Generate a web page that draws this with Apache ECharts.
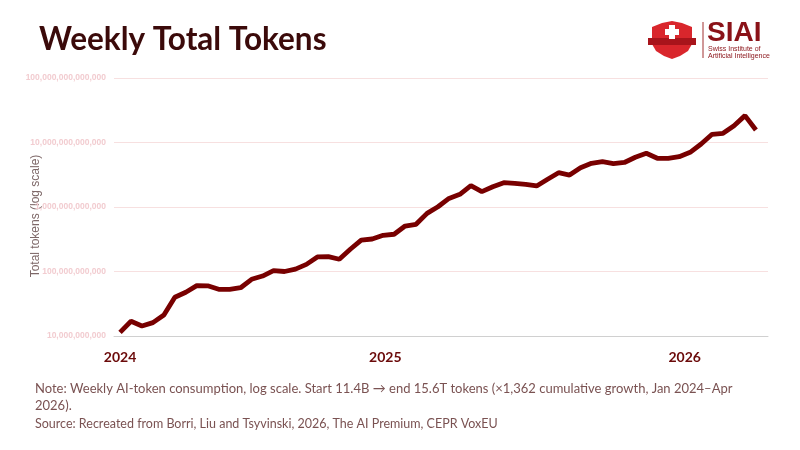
<!DOCTYPE html>
<html>
<head>
<meta charset="utf-8">
<script src="https://cdn.jsdelivr.net/npm/echarts@6/dist/echarts.min.js"></script>
<style>
  html, body { margin: 0; padding: 0; background: #fff; }
  #chart { width: 800px; height: 450px; }
</style>
</head>
<body>
<div id="chart"></div>
<script>
// weekly total tokens
var tokens = [
    1.14e10, 1.69e10, 1.43e10, 1.61e10, 2.12e10, 3.98e10, 4.76e10, 6.03e10, 6.0e10, 5.3e10,
    5.3e10, 5.6e10, 7.57e10, 8.5e10, 1.03e11, 1.0e11, 1.09e11, 1.29e11, 1.68e11, 1.70e11,
    1.55e11, 2.21e11, 3.07e11, 3.19e11, 3.64e11, 3.78e11, 5.07e11, 5.39e11, 7.98e11, 1.01e12,
    1.36e12, 1.57e12, 2.14e12, 1.73e12, 2.06e12, 2.38e12, 2.33e12, 2.25e12, 2.12e12, 2.69e12,
    3.40e12, 3.13e12, 4.06e12, 4.76e12, 5.04e12, 4.72e12, 4.9e12, 5.90e12, 6.81e12, 5.69e12,
    5.69e12, 6.03e12, 7.05e12, 9.48e12, 1.34e13, 1.39e13, 1.82e13, 2.61e13, 1.56e13
];
// year labels and the week position where each one sits
var yearLabels = ['2024', '2025', '2026'];
var yearAt = [0, 24.2, 51.5];

var points = [];
for (var i = 0; i < tokens.length; i++) {
    points.push([i, tokens[i]]);
}

var chart = echarts.init(document.getElementById('chart'));

var option = {
    backgroundColor: '#fff',
    textStyle: { fontFamily: 'Lato' },
    title: {
        text: 'Weekly Total Tokens',
        left: 34,
        top: 19,
        textStyle: { fontSize: 31.5, fontWeight: 'bold', color: '#3b0a0a', fontFamily: 'Lato' }
    },
    grid: { left: 114, right: 32, top: 78, bottom: 114 },
    xAxis: {
        type: 'value',
        min: -0.55,
        max: 59.1,
        splitLine: { show: false },
        axisLine: { lineStyle: { color: '#d0d0d0' } },
        axisTick: { show: false },
        axisLabel: {
            customValues: yearAt,
            formatter: function (v) {
                var k = yearAt.indexOf(v);
                return k >= 0 ? yearLabels[k] : '';
            },
            color: '#6b0a0a',
            fontWeight: 'bold',
            fontSize: 14,
            margin: 14
        }
    },
    yAxis: {
        type: 'log',
        logBase: 10,
        min: 1e10,
        max: 1e14,
        name: 'Total tokens (log scale)',
        nameLocation: 'middle',
        nameGap: 72,
        nameMoveOverlap: false,
        nameTextStyle: { color: '#7e6868', fontSize: 12, fontFamily: 'Liberation Sans', padding: [0, 18, 0, 0] },
        axisLine: { show: false },
        axisTick: { show: false },
        splitLine: { lineStyle: { color: '#f7e0e0' } },
        axisLabel: {
            color: '#f2ccd0',
            fontSize: 8.5,
            fontWeight: 'bold',
            fontFamily: 'Liberation Sans',
            formatter: function (v) { return Math.round(v).toLocaleString('en-US'); }
        }
    },
    series: [{
        type: 'line',
        data: points,
        symbol: 'none',
        lineStyle: { color: '#780000', width: 4.8 },
        z: 5
    }],
    graphic: [
        // logo: shield
        {
            type: 'polygon',
            shape: { points: [[652, 27], [662, 23], [672, 21], [682, 23], [692, 27], [692, 44], [688, 51], [680, 56], [672, 59], [664, 56], [656, 51], [652, 44]] },
            style: { fill: '#d9262c' }
        },
        {
            type: 'rect',
            shape: { x: 648, y: 38, width: 48, height: 7 },
            style: { fill: '#a8141b' }
        },
        {
            type: 'rect',
            shape: { x: 669, y: 25, width: 6, height: 14 },
            style: { fill: '#fff' }
        },
        {
            type: 'rect',
            shape: { x: 665, y: 29, width: 14, height: 6 },
            style: { fill: '#fff' }
        },
        {
            type: 'line',
            shape: { x1: 703, y1: 22, x2: 703, y2: 58 },
            style: { stroke: '#a03030', lineWidth: 1 }
        },
        {
            type: 'text',
            left: 707,
            top: 19,
            style: { text: 'SIAI', fill: '#8a1218', font: 'bold 28px "Liberation Sans"' }
        },
        {
            type: 'text',
            left: 708,
            top: 46,
            style: { text: 'Swiss Institute of\nArtificial Intelligence', fill: '#8a1218', font: '7px "Liberation Sans"', lineHeight: 7 }
        },
        // note + source
        {
            type: 'text',
            left: 35,
            top: 380,
            style: {
                text: 'Note: Weekly AI-token consumption, log scale. Start 11.4B \u2192 end 15.6T tokens (\u00d71,362 cumulative growth, Jan 2024\u2013Apr 2026).',
                width: 735,
                overflow: 'break',
                fill: '#7a5252',
                font: '13px Lato',
                lineHeight: 17
            }
        },
        {
            type: 'text',
            left: 35,
            top: 417,
            style: {
                text: 'Source: Recreated from Borri, Liu and Tsyvinski, 2026, The AI Premium, CEPR VoxEU',
                fill: '#7a5252',
                font: '12.5px Lato'
            }
        }
    ]
};

chart.setOption(option);
</script>
</body>
</html>
